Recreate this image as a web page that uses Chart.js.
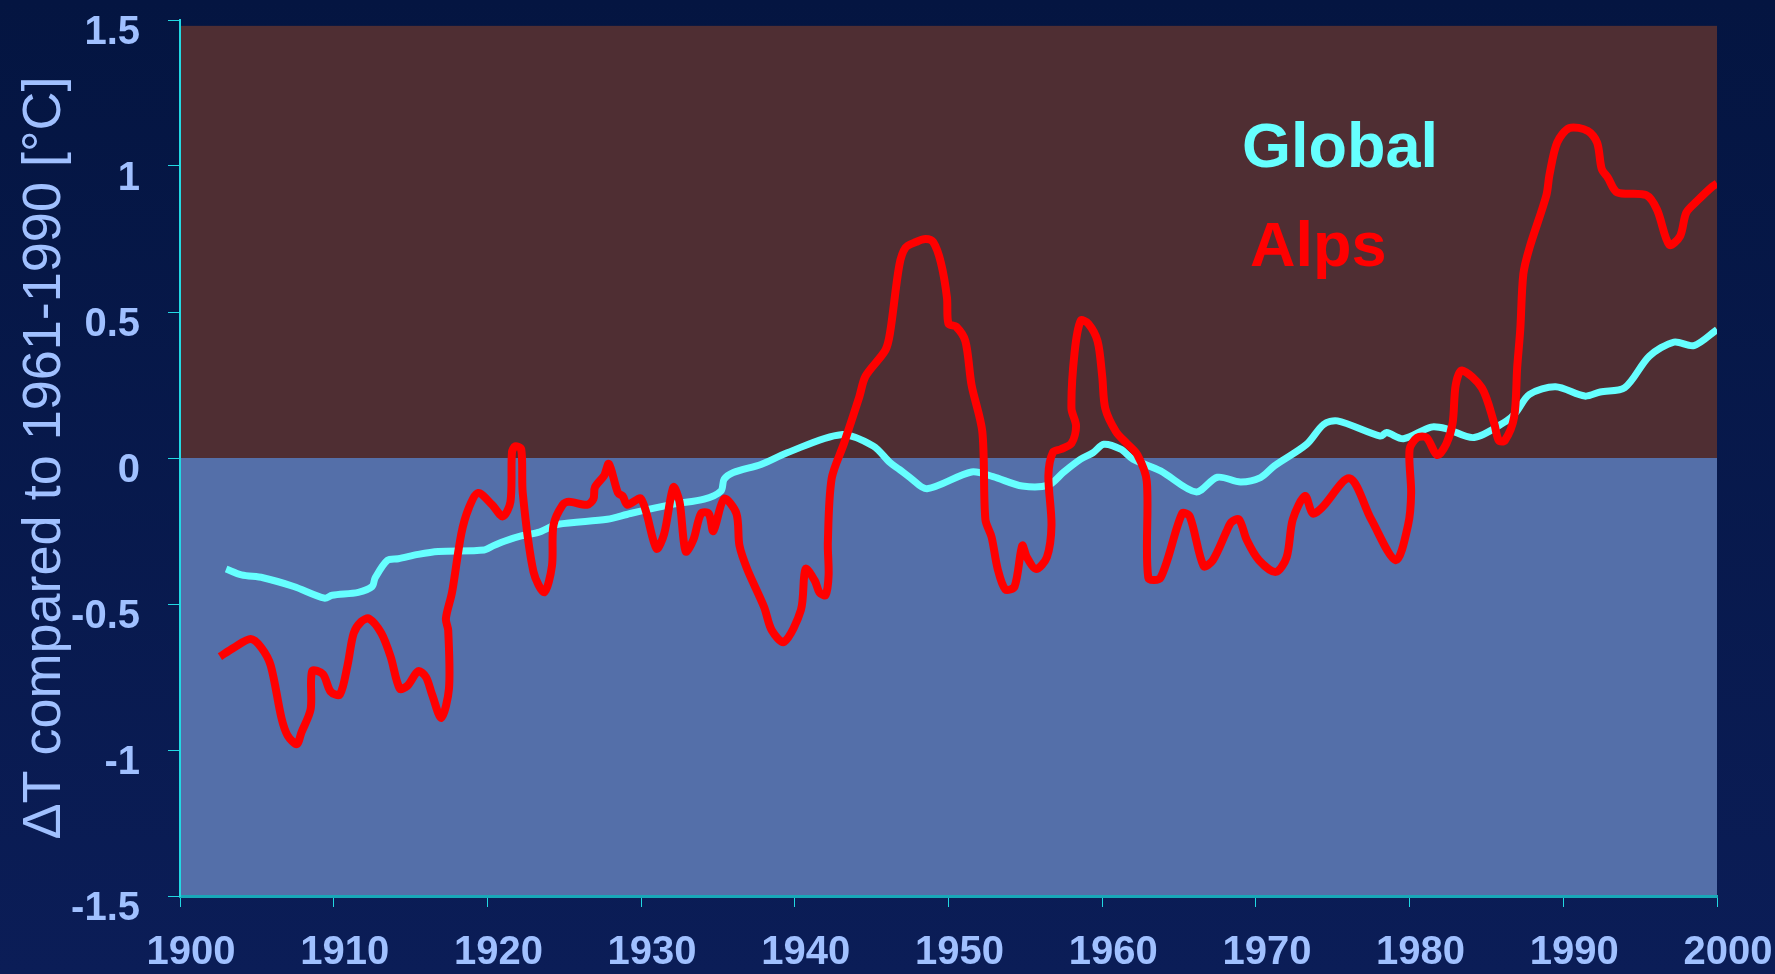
<!DOCTYPE html>
<html>
<head>
<meta charset="utf-8">
<script src="https://cdn.jsdelivr.net/npm/chart.js@4.4.1/dist/chart.umd.min.js"></script>
<style>
  html, body { margin: 0; padding: 0; background: #071a4e; }
  canvas { display: block; }
</style>
</head>
<body>
<canvas id="c" width="1775" height="974"></canvas>
<script>
// ---- data ----
const xTickValues = [1900, 1910, 1920, 1930, 1940, 1950, 1960, 1970, 1980, 1990, 2000];
const xTickLabels = ['1900', '1910', '1920', '1930', '1940', '1950', '1960', '1970', '1980', '1990', '2000'];
const yTickValues = [-1.5, -1, -0.5, 0, 0.5, 1, 1.5];
const yTickLabels = ['-1.5', '-1', '-0.5', '0', '0.5', '1', '1.5'];
const yAxisTitle = 'ΔT compared to 1961-1990 [°C]';
const seriesNames = ['Alps', 'Global'];

const warmBand = [0, 1.48];    // brown band (value range)
const coldBand = [-1.5, 0];    // blue band (value range)

const alpsYears = [1902.6,1903.5,1904.6,1905.3,1905.9,1906.6,1907.0,1907.6,1907.9,1908.5,1908.6,1909.3,1909.8,1910.4,1910.9,1911.3,1911.8,1912.3,1913.1,1913.7,1914.3,1914.8,1915.5,1916.0,1916.4,1917.0,1917.5,1917.45,1917.3,1917.7,1918.3,1918.8,1919.4,1920.3,1921.0,1921.5,1921.6,1921.8,1922.2,1922.3,1923.0,1923.7,1924.2,1924.3,1924.9,1925.3,1926.5,1926.9,1927.0,1927.6,1927.9,1928.5,1928.8,1929.1,1930.0,1931.0,1931.5,1932.1,1932.5,1932.9,1933.4,1933.9,1934.4,1934.7,1935.4,1936.2,1936.4,1936.9,1938.0,1938.5,1939.3,1940.4,1940.7,1941.3,1941.6,1942.0,1942.2,1942.15,1942.4,1943.2,1944.2,1944.6,1945.9,1946.2,1946.8,1947.2,1947.9,1948.5,1949.0,1949.5,1949.9,1950.0,1950.5,1951.1,1951.5,1952.2,1952.4,1952.8,1953.2,1953.7,1954.3,1954.8,1955.1,1955.7,1956.4,1956.7,1956.5,1956.8,1957.3,1958.0,1958.3,1958.0,1958.2,1958.6,1959.1,1959.7,1960.0,1960.2,1960.9,1961.6,1962.3,1962.9,1963.0,1963.8,1965.2,1965.7,1966.6,1967.2,1968.1,1968.4,1968.9,1969.4,1970.2,1971.3,1972.0,1972.4,1973.2,1973.7,1974.3,1976.1,1977.5,1979.1,1979.9,1980.1,1980.0,1980.5,1981.1,1981.8,1982.4,1982.8,1983.0,1983.4,1984.7,1985.5,1985.8,1986.2,1986.8,1987.0,1987.2,1987.4,1987.8,1988.9,1989.1,1989.6,1990.4,1991.6,1992.2,1992.5,1992.9,1993.5,1995.4,1996.1,1996.9,1997.6,1998.0,1998.7,1999.7,2000.0];
const alpsValues = [-0.68,-0.65,-0.62,-0.65,-0.71,-0.89,-0.95,-0.98,-0.94,-0.86,-0.73,-0.74,-0.80,-0.81,-0.71,-0.60,-0.56,-0.55,-0.60,-0.68,-0.79,-0.78,-0.73,-0.75,-0.81,-0.89,-0.79,-0.59,-0.55,-0.46,-0.26,-0.17,-0.12,-0.16,-0.20,-0.15,0.02,0.04,0.03,-0.12,-0.39,-0.46,-0.37,-0.23,-0.16,-0.15,-0.16,-0.14,-0.10,-0.06,-0.02,-0.12,-0.13,-0.16,-0.14,-0.31,-0.26,-0.10,-0.15,-0.32,-0.28,-0.19,-0.19,-0.25,-0.14,-0.19,-0.30,-0.38,-0.51,-0.59,-0.63,-0.52,-0.38,-0.42,-0.46,-0.47,-0.40,-0.29,-0.07,0.05,0.21,0.28,0.37,0.43,0.66,0.72,0.74,0.75,0.74,0.67,0.55,0.46,0.45,0.40,0.25,0.09,-0.21,-0.27,-0.38,-0.45,-0.44,-0.30,-0.34,-0.38,-0.34,-0.23,-0.06,0.02,0.03,0.05,0.11,0.17,0.36,0.47,0.46,0.40,0.28,0.17,0.09,0.05,0.01,-0.08,-0.41,-0.41,-0.19,-0.20,-0.37,-0.35,-0.25,-0.22,-0.21,-0.28,-0.35,-0.39,-0.34,-0.21,-0.13,-0.19,-0.17,-0.07,-0.21,-0.35,-0.23,-0.12,0.03,0.07,0.07,0.01,0.05,0.12,0.25,0.30,0.24,0.12,0.06,0.06,0.14,0.31,0.44,0.63,0.72,0.90,0.97,1.08,1.13,1.12,1.08,0.99,0.96,0.91,0.90,0.85,0.73,0.76,0.84,0.88,0.93,0.94];

const globalYears = [1903.0,1904.0,1905.4,1907.4,1909.4,1909.9,1911.6,1912.5,1912.7,1913.5,1914.2,1915.5,1916.8,1919.8,1920.4,1921.1,1922.2,1923.3,1924.6,1927.8,1929.3,1932.1,1934.1,1935.2,1935.4,1936.0,1937.8,1939.5,1943.0,1945.1,1946.2,1946.8,1947.5,1948.6,1951.5,1952.9,1954.8,1956.5,1957.5,1958.6,1959.4,1960.1,1961.2,1962.0,1963.8,1966.1,1967.5,1969.0,1970.3,1971.2,1973.3,1974.4,1975.3,1978.1,1978.5,1979.6,1981.4,1982.4,1984.2,1986.3,1986.9,1987.8,1989.5,1991.4,1992.4,1994.0,1995.6,1997.2,1998.5,2000.0];
const globalValues = [-0.38,-0.40,-0.41,-0.44,-0.48,-0.47,-0.46,-0.44,-0.41,-0.35,-0.345,-0.33,-0.32,-0.315,-0.30,-0.285,-0.267,-0.255,-0.227,-0.21,-0.19,-0.158,-0.141,-0.113,-0.073,-0.05,-0.022,0.018,0.08,0.041,-0.016,-0.039,-0.067,-0.105,-0.048,-0.064,-0.096,-0.093,-0.048,-0.004,0.018,0.047,0.03,-0.004,-0.044,-0.116,-0.066,-0.082,-0.067,-0.027,0.047,0.115,0.127,0.075,0.087,0.066,0.106,0.10,0.07,0.127,0.155,0.218,0.244,0.212,0.226,0.241,0.349,0.397,0.385,0.44];

// ---- styling ----
const FONT = "'Liberation Sans', Arial, Helvetica, sans-serif";
const LABEL_COLOR = '#a0c0ff';
const ALPS_COLOR = '#ff0000';
const GLOBAL_COLOR = '#66ffff';

const toPoints = (xs, ys) => xs.map((x, i) => ({ x: x, y: ys[i] }));

const decorPlugin = {
  id: 'decor',
  beforeDraw(chart) {
    const { ctx, scales: { x, y } } = chart;
    ctx.save();
    const g = ctx.createLinearGradient(0, 0, 0, chart.height);
    g.addColorStop(0, '#041541');
    g.addColorStop(1, '#0b1d57');
    ctx.fillStyle = g;
    ctx.fillRect(0, 0, chart.width, chart.height);
    const x0 = x.getPixelForValue(xTickValues[0]);
    const x1 = x.getPixelForValue(xTickValues[xTickValues.length - 1]);
    const wTop = y.getPixelForValue(warmBand[1]), wBot = y.getPixelForValue(warmBand[0]);
    const cTop = y.getPixelForValue(coldBand[1]), cBot = y.getPixelForValue(coldBand[0]);
    ctx.fillStyle = '#4f2e33';
    ctx.fillRect(x0, wTop, x1 - x0, wBot - wTop);
    ctx.fillStyle = '#546fa9';
    ctx.fillRect(x0, cTop, x1 - x0, cBot - cTop);
    ctx.restore();
  },
  afterDatasetsDraw(chart) {
    const { ctx } = chart;
    ctx.save();
    ctx.font = 'bold 63px ' + FONT;
    ctx.textAlign = 'left';
    ctx.textBaseline = 'alphabetic';
    ctx.fillStyle = GLOBAL_COLOR;
    ctx.fillText(seriesNames[1], 1242, 167);
    ctx.fillStyle = ALPS_COLOR;
    ctx.fillText(seriesNames[0], 1250, 266);
    ctx.restore();
  }
};

new Chart(document.getElementById('c'), {
  type: 'line',
  data: {
    datasets: [
      {
        label: seriesNames[0],
        data: toPoints(alpsYears, alpsValues),
        borderColor: ALPS_COLOR,
        borderWidth: 8,
        pointRadius: 0,
        tension: 0.3,
        borderJoinStyle: 'round',
        fill: false
      },
      {
        label: seriesNames[1],
        data: toPoints(globalYears, globalValues),
        borderColor: GLOBAL_COLOR,
        borderWidth: 7,
        pointRadius: 0,
        tension: 0.3,
        borderJoinStyle: 'round',
        fill: false
      }
    ]
  },
  options: {
    responsive: false,
    animation: false,
    devicePixelRatio: 1,
    layout: { padding: { left: 0, right: 58, top: 20, bottom: 0 } },
    plugins: {
      legend: { display: false },
      tooltip: { enabled: false }
    },
    scales: {
      x: {
        type: 'linear',
        min: 1900,
        max: 2000,
        afterFit(s) { s.height = 78; s.paddingLeft = 0; s.paddingRight = 0; },
        afterBuildTicks(s) { s.ticks = xTickValues.map(v => ({ value: v })); },
        border: { display: true, color: '#18a8b8', width: 3 },
        grid: { drawOnChartArea: false, drawTicks: true, tickLength: 11, tickColor: '#22d8e2', tickWidth: 1 },
        ticks: {
          color: LABEL_COLOR,
          font: { family: FONT, size: 40, weight: 'bold' },
          padding: 22,
          labelOffset: 11,
          maxRotation: 0,
          autoSkip: false,
          callback: (v) => { const i = xTickValues.indexOf(v); return i >= 0 ? xTickLabels[i] : ''; }
        }
      },
      y: {
        type: 'linear',
        min: -1.5,
        max: 1.5,
        afterFit(s) { s.width = 180; s.paddingTop = 0; s.paddingBottom = 0; },
        afterBuildTicks(s) { s.ticks = yTickValues.map(v => ({ value: v })); },
        border: { display: true, color: '#22d8e2', width: 2 },
        grid: { drawOnChartArea: false, drawTicks: true, tickLength: 12, tickColor: '#22d8e2', tickWidth: 1 },
        ticks: {
          color: LABEL_COLOR,
          font: { family: FONT, size: 40, weight: 'bold' },
          padding: 28,
          labelOffset: 13,
          autoSkip: false,
          callback: (v) => { const i = yTickValues.findIndex(t => Math.abs(t - v) < 1e-9); return i >= 0 ? yTickLabels[i] : ''; }
        },
        title: {
          display: true,
          text: yAxisTitle,
          color: LABEL_COLOR,
          font: { family: FONT, size: 54, weight: 'normal' },
          padding: { top: 13, bottom: 0 }
        }
      }
    }
  },
  plugins: [decorPlugin]
});
</script>
</body>
</html>
